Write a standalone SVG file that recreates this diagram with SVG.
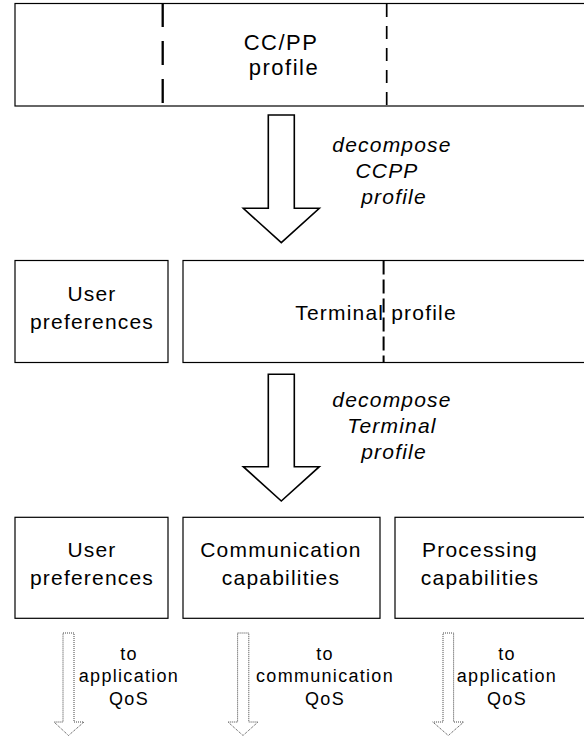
<svg xmlns="http://www.w3.org/2000/svg" width="584" height="736" viewBox="0 0 584 736">
  <style>
    .box { fill: #fff; stroke: #000; stroke-width: 1.2; }
    .lbl { font-family: "Liberation Sans", Arial, sans-serif; font-size: 21px; letter-spacing: 1.2px; fill: #000; text-anchor: middle; }
    .big { font-size: 22px; letter-spacing: 1.5px; }
    .it { font-style: italic; }
    .sm { font-size: 18px; letter-spacing: 1.3px; }
    .bigarrow { fill: #fff; stroke: #000; stroke-width: 1.6; stroke-linejoin: miter; }
    .smallarrow { fill: #fff; stroke: #444; stroke-width: 1; stroke-dasharray: 1 1; }
  </style>

  <!-- CC/PP profile -->
  <g id="ccpp-profile">
    <rect class="box" x="15" y="3.5" width="600" height="102.5"/>
    <line x1="162.7" y1="3" x2="162.7" y2="106" stroke="#000" stroke-width="2.3" stroke-dasharray="24 14"/>
    <line x1="386.7" y1="4" x2="386.7" y2="106" stroke="#000" stroke-width="1.7" stroke-dasharray="13 9"/>
    <text class="lbl big" x="281" y="50">CC/PP</text>
    <text class="lbl big" x="284" y="75">profile</text>
  </g>

  <!-- second level -->
  <g id="user-preferences-1">
    <rect class="box" x="15" y="260.5" width="153" height="102"/>
    <text class="lbl" x="92" y="301">User</text>
    <text class="lbl" x="92" y="329">preferences</text>
  </g>
  <g id="terminal-profile">
    <rect class="box" x="183" y="260.5" width="430" height="102"/>
    <line x1="383.6" y1="260.5" x2="383.6" y2="362.5" stroke="#000" stroke-width="2" stroke-dasharray="14 5"/>
    <text class="lbl" x="376" y="320">Terminal profile</text>
  </g>

  <!-- third level -->
  <g id="user-preferences-2">
    <rect class="box" x="15" y="517.3" width="153" height="101"/>
    <text class="lbl" x="92" y="557">User</text>
    <text class="lbl" x="92" y="585">preferences</text>
  </g>
  <g id="communication-capabilities">
    <rect class="box" x="183" y="517.3" width="197" height="101"/>
    <text class="lbl" x="281" y="557">Communication</text>
    <text class="lbl" x="281" y="585">capabilities</text>
  </g>
  <g id="processing-capabilities">
    <rect class="box" x="395" y="517.3" width="220" height="101"/>
    <text class="lbl" x="480" y="557">Processing</text>
    <text class="lbl" x="480" y="585">capabilities</text>
  </g>

  <!-- connectors -->
  <g id="connectors">
    <polygon class="bigarrow" points="268.3,115 294.3,115 294.3,208.3 319.3,208.3 281.3,242.7 243.3,208.3 268.3,208.3"/>
    <polygon class="bigarrow" points="268.3,374.3 294.3,374.3 294.3,466.7 319.3,466.7 281.3,501 243.3,466.7 268.3,466.7"/>
    <polygon class="smallarrow" points="63,633 74,633 74,722 84,722 68.5,735.5 54,722 63,722"/>
    <polygon class="smallarrow" points="237.6,633 248.8,633 248.8,722 258,722 243,735.5 228,722 237.6,722"/>
    <polygon class="smallarrow" points="443,633 453.6,633 453.6,722 463.7,722 448.3,735.5 432.8,722 443,722"/>
  </g>

  <!-- connector labels -->
  <g id="labels">
    <text class="lbl it" x="392" y="152">decompose</text>
    <text class="lbl it" x="387" y="178">CCPP</text>
    <text class="lbl it" x="394" y="204">profile</text>
    <text class="lbl it" x="392" y="407">decompose</text>
    <text class="lbl it" x="392" y="433">Terminal</text>
    <text class="lbl it" x="394" y="459">profile</text>

    <text class="lbl sm" x="129" y="660">to</text>
    <text class="lbl sm" x="129" y="682">application</text>
    <text class="lbl sm" x="129" y="705">QoS</text>
    <text class="lbl sm" x="325" y="660">to</text>
    <text class="lbl sm" x="325" y="682">communication</text>
    <text class="lbl sm" x="325" y="705">QoS</text>
    <text class="lbl sm" x="507" y="660">to</text>
    <text class="lbl sm" x="507" y="682">application</text>
    <text class="lbl sm" x="507" y="705">QoS</text>
  </g>
</svg>
